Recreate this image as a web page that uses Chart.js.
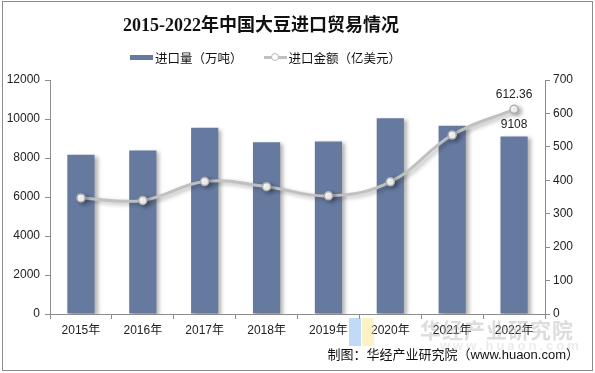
<!DOCTYPE html>
<html>
<head>
<meta charset="utf-8">
<script src="https://cdn.jsdelivr.net/npm/chart.js@4/dist/chart.umd.min.js"></script>
<style>
  body { margin: 0; background: #fff; }
  #wrap { position: relative; width: 595px; height: 373px; font-family: "Liberation Sans", "Noto Sans CJK SC", sans-serif; }
  #frame { position: absolute; left: 2px; top: 1px; width: 589px; height: 368px; border: 1px solid #8c8c8c; pointer-events: none; }
  #title { position: absolute; left: 0; width: 522px; top: 10px; text-align: center; font: bold 18px "Liberation Serif", "Noto Sans CJK SC", serif; color: #111; }
  #legend { position: absolute; left: 130px; top: 48px; font-size: 12.5px; color: #111; white-space: nowrap; }
  #legend span { display: inline-block; vertical-align: middle; }
  .swatch { width: 23px; height: 5px; background: #667aa0; margin-right: 2px; }
  .lineswatch { position: relative; width: 23px; height: 9px; margin-left: 21px; margin-right: 2px; }
  .lineswatch::before { content: ""; position: absolute; left: 0; right: 0; top: 3px; height: 3px; background: #c0c0c0; }
  .lineswatch::after { content: ""; position: absolute; left: 7px; top: 0; width: 6px; height: 6px; border: 1.5px solid #b8b8b8; border-radius: 50%; background: #fff; }
  #source { position: absolute; right: 16px; top: 344px; font-size: 13px; color: #111; }
  #wm { position: absolute; left: 420px; top: 314px; font-size: 21px; font-weight: bold; color: rgba(170,170,170,0.4); letter-spacing: 1px; }
  #wm2 { position: absolute; left: 440px; top: 338px; font-size: 13px; font-weight: bold; color: rgba(190,190,190,0.3); letter-spacing: 3px; }
  #logo1 { position: absolute; left: 349px; top: 318px; width: 12px; height: 28px; background: rgba(120,170,240,0.45); }
  #logo2 { position: absolute; left: 362px; top: 318px; width: 12px; height: 28px; background: rgba(250,230,140,0.5); }
</style>
</head>
<body>
<div id="wrap">
  <canvas id="c" width="595" height="373"></canvas>
  <div id="title">2015-2022年中国大豆进口贸易情况</div>
  <div id="legend"><span class="swatch"></span><span>进口量（万吨）</span><span class="lineswatch"></span><span>进口金额（亿美元）</span></div>
  <div id="logo1"></div><div id="logo2"></div>
  <div id="wm">华经产业研究院</div>
  <div id="wm2">www.huaon.com</div>
  <div id="source">制图：华经产业研究院（www.huaon.com）</div>
  <div id="frame"></div>
</div>
<script>
const years = ["2015年", "2016年", "2017年", "2018年", "2019年", "2020年", "2021年", "2022年"];
const volume = [8169, 8391, 9553, 8803, 8851, 10033, 9652, 9108];      // 进口量（万吨）
const value = [347.1, 339.8, 396.2, 381.0, 353.4, 395.3, 535.3, 612.36]; // 进口金额（亿美元）
const volumeTicks = [0, 2000, 4000, 6000, 8000, 10000, 12000];
const valueTicks = [0, 100, 200, 300, 400, 500, 600, 700];

const tickFont = { family: "Liberation Sans, Noto Sans CJK SC, sans-serif", size: 12 };

// soft shadow under bars and line, like the original
const shadowPlugin = {
    id: "shadow",
    beforeDatasetDraw(chart) {
        const ctx = chart.ctx;
        ctx.save();
        ctx.shadowColor = "rgba(0,0,0,0.3)";
        ctx.shadowBlur = 4;
        ctx.shadowOffsetX = 3;
        ctx.shadowOffsetY = 2;
    },
    afterDatasetDraw(chart) {
        chart.ctx.restore();
    }
};

// only the last year carries value labels
const lastLabels = {
    id: "lastLabels",
    afterDatasetsDraw(chart) {
        const ctx = chart.ctx;
        const last = years.length - 1;
        const bar = chart.getDatasetMeta(1).data[last];
        const pt = chart.getDatasetMeta(0).data[last];
        ctx.save();
        ctx.font = "12px Liberation Sans, sans-serif";
        ctx.fillStyle = "#222";
        ctx.textAlign = "center";
        ctx.textBaseline = "bottom";
        ctx.fillText(String(volume[last]), bar.x, bar.y - 6);
        ctx.fillText(value[last].toFixed(2), pt.x, pt.y - 9);
        ctx.restore();
    }
};

new Chart(document.getElementById("c"), {
    data: {
        labels: years,
        datasets: [{
            type: "line",
            label: "进口金额（亿美元）",
            data: value,
            yAxisID: "y1",
            borderColor: "#c0c0c0",
            borderWidth: 3,
            tension: 0.4,
            pointRadius: 4,
            pointBorderWidth: 1.5,
            pointBackgroundColor: "#fff",
            pointBorderColor: "#b0b0b0",
            order: 0
        }, {
            type: "bar",
            label: "进口量（万吨）",
            data: volume,
            yAxisID: "y",
            backgroundColor: "#667aa0",
            categoryPercentage: 1,
            barPercentage: 0.44,
            order: 1
        }]
    },
    options: {
        responsive: false,
        animation: false,
        layout: { padding: { top: 80, left: 0, right: 0, bottom: 0 } },
        plugins: {
            legend: { display: false },
            title: { display: false },
            tooltip: { enabled: false }
        },
        scales: {
            x: {
                offset: true,
                grid: { offset: true, drawOnChartArea: false, drawTicks: true, tickLength: 5, color: "#8c8c8c" },
                border: { color: "#8c8c8c" },
                ticks: { font: tickFont, color: "#222", padding: 4, maxRotation: 0 },
                afterFit(s) { s.height = 59; }
            },
            y: {
                position: "left",
                min: 0, max: 12000,
                afterBuildTicks(s) { s.ticks = volumeTicks.map(v => ({ value: v })); },
                grid: { drawOnChartArea: false, tickLength: 5, color: "#8c8c8c" },
                border: { color: "#8c8c8c" },
                ticks: { font: tickFont, color: "#222", padding: 5, callback: v => String(v) },
                afterFit(s) { s.width = 50; }
            },
            y1: {
                position: "right",
                min: 0, max: 700,
                afterBuildTicks(s) { s.ticks = valueTicks.map(v => ({ value: v })); },
                grid: { drawOnChartArea: false, tickLength: 5, color: "#8c8c8c" },
                border: { color: "#8c8c8c" },
                ticks: { font: tickFont, color: "#222", padding: 3, callback: v => String(v) },
                afterFit(s) { s.width = 50; }
            }
        }
    },
    plugins: [shadowPlugin, lastLabels]
});
</script>
</body>
</html>
